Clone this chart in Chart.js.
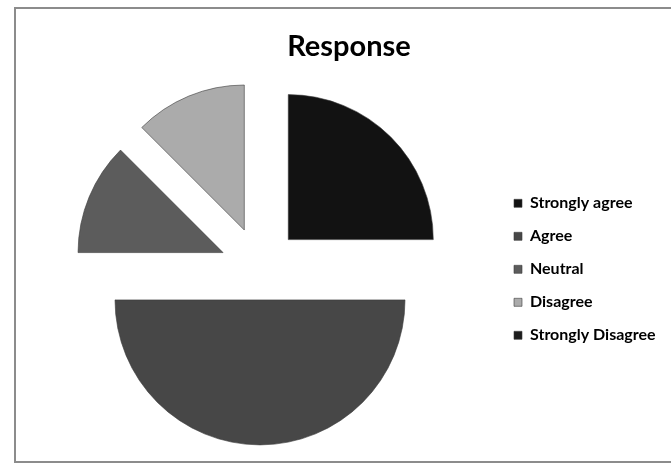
<!DOCTYPE html>
<html>
<head>
<meta charset="utf-8">
<script src="https://cdn.jsdelivr.net/npm/chart.js@4/dist/chart.umd.min.js"></script>
<style>
  html, body { margin: 0; padding: 0; background: #ffffff; overflow: hidden; }
  #wrap { position: relative; width: 671px; height: 466px; overflow: hidden; }
  #frame { position: absolute; left: 14px; top: 7px; width: 656px; height: 452px; border: 2px solid #8c8c8c; border-right-color: #e6e6e6; box-sizing: content-box; pointer-events: none; }
  canvas { position: absolute; left: 0; top: 0; }
</style>
</head>
<body>
<div id="wrap">
  <canvas id="c" width="700" height="466"></canvas>
  <div id="frame"></div>
</div>
<script>
const categories = ["Strongly agree", "Agree", "Neutral", "Disagree", "Strongly Disagree"];
const values = [25, 50, 12.5, 12.5, 0];
const sliceColors = ["#121212", "#474747", "#5c5c5c", "#ababab", "#1c1c1c"];
const explodeDistances = [40, 32, 40, 41, 0];
const chartTitle = "Response";

const explodePlugin = {
  id: "explode",
  afterDatasetsUpdate(chart) {
    const meta = chart.getDatasetMeta(0);
    meta.data.forEach((arc, i) => {
      const mid = (arc.startAngle + arc.endAngle) / 2;
      const d = explodeDistances[i] || 0;
      arc.x += Math.cos(mid) * d;
      arc.y += Math.sin(mid) * d;
    });
  }
};

const legendWidthPlugin = {
  id: "legendWidth",
  beforeInit(chart) {
    const origFit = chart.legend.fit;
    chart.legend.fit = function () {
      origFit.call(this);
      this.width = 178;
    };
  }
};

new Chart(document.getElementById("c"), {
  type: "pie",
  data: {
    labels: categories,
    datasets: [{
      data: values,
      backgroundColor: sliceColors,
      borderColor: "#3a3a3a",
      borderWidth: 0.6,
      hoverOffset: 0,
      clip: false
    }]
  },
  options: {
    responsive: false,
    animation: false,
    radius: 145,
    layout: { padding: { left: 23, right: 25, top: 29, bottom: 4 } },
    plugins: {
      title: {
        display: true,
        text: chartTitle,
        color: "#000000",
        font: { family: "Lato, 'Open Sans', sans-serif", size: 29, weight: "bold" },
        padding: { top: 0, bottom: 10 }
      },
      legend: {
        position: "right",
        title: {
          display: true,
          text: " ",
          padding: 16,
          font: { size: 13 }
        },
        labels: {
          color: "#000000",
          boxWidth: 8,
          boxHeight: 8,
          padding: 17,
          font: { family: "Lato, 'Open Sans', sans-serif", size: 16, weight: "bold" }
        }
      },
      tooltip: { enabled: false }
    }
  },
  plugins: [explodePlugin, legendWidthPlugin]
});
</script>
</body>
</html>
